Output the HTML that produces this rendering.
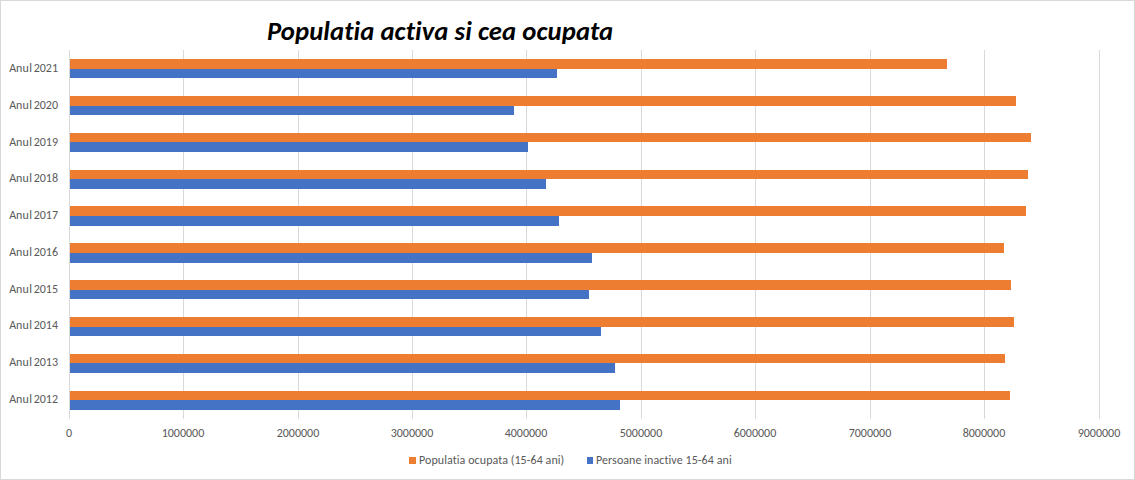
<!DOCTYPE html>
<html><head><meta charset="utf-8"><style>
html,body{margin:0;padding:0;background:#fff;}
#c{position:relative;width:1135px;height:480px;overflow:hidden;background:#fff;}
svg{position:absolute;left:0;top:0;}
.ax{font-family:"Carlito","Liberation Sans",sans-serif;font-size:12px;fill:#595959;}
.ti{font-family:"Carlito","Liberation Sans",sans-serif;font-size:26.67px;font-weight:bold;font-style:italic;fill:#000;letter-spacing:0.1px;}
.lg{font-family:"Carlito","Liberation Sans",sans-serif;font-size:12px;fill:#595959;letter-spacing:0.07px;}
</style></head><body><div id="c">
<svg width="1135" height="480" viewBox="0 0 1135 480">
<rect x="0.5" y="0.5" width="1134" height="479" fill="#fff" stroke="#d9d9d9" stroke-width="1"/>
<text x="267" y="40" class="ti" textLength="346.25" lengthAdjust="spacingAndGlyphs">Populatia activa si cea ocupata</text>
<rect x="69" y="50" width="1" height="368.8" fill="#d9d9d9"/>
<rect x="183" y="50" width="1" height="368.8" fill="#d9d9d9"/>
<rect x="298" y="50" width="1" height="368.8" fill="#d9d9d9"/>
<rect x="412" y="50" width="1" height="368.8" fill="#d9d9d9"/>
<rect x="526" y="50" width="1" height="368.8" fill="#d9d9d9"/>
<rect x="641" y="50" width="1" height="368.8" fill="#d9d9d9"/>
<rect x="755" y="50" width="1" height="368.8" fill="#d9d9d9"/>
<rect x="870" y="50" width="1" height="368.8" fill="#d9d9d9"/>
<rect x="984" y="50" width="1" height="368.8" fill="#d9d9d9"/>
<rect x="1099" y="50" width="1" height="368.8" fill="#d9d9d9"/>
<rect x="70" y="59" width="877" height="10" fill="#ed7d31"/>
<rect x="70" y="69" width="487" height="9" fill="#4472c4"/>
<rect x="70" y="96" width="946" height="10" fill="#ed7d31"/>
<rect x="70" y="106" width="444" height="9" fill="#4472c4"/>
<rect x="70" y="133" width="961" height="9" fill="#ed7d31"/>
<rect x="70" y="142" width="458" height="10" fill="#4472c4"/>
<rect x="70" y="170" width="958" height="9" fill="#ed7d31"/>
<rect x="70" y="179" width="476" height="10" fill="#4472c4"/>
<rect x="70" y="206" width="956" height="10" fill="#ed7d31"/>
<rect x="70" y="216" width="489" height="10" fill="#4472c4"/>
<rect x="70" y="243" width="934" height="10" fill="#ed7d31"/>
<rect x="70" y="253" width="522" height="10" fill="#4472c4"/>
<rect x="70" y="280" width="941" height="10" fill="#ed7d31"/>
<rect x="70" y="290" width="519" height="9" fill="#4472c4"/>
<rect x="70" y="317" width="944" height="10" fill="#ed7d31"/>
<rect x="70" y="327" width="531" height="9" fill="#4472c4"/>
<rect x="70" y="354" width="935" height="9" fill="#ed7d31"/>
<rect x="70" y="363" width="545" height="10" fill="#4472c4"/>
<rect x="70" y="391" width="940" height="9" fill="#ed7d31"/>
<rect x="70" y="400" width="550" height="10" fill="#4472c4"/>
<text x="9.15" y="72.00" class="ax" textLength="48.875" lengthAdjust="spacingAndGlyphs">Anu<tspan dx="0.5">l</tspan><tspan dx="-1"> 2021</tspan></text>
<text x="9.15" y="108.76" class="ax" textLength="48.875" lengthAdjust="spacingAndGlyphs">Anu<tspan dx="0.5">l</tspan><tspan dx="-1"> 2020</tspan></text>
<text x="9.15" y="145.52" class="ax" textLength="48.875" lengthAdjust="spacingAndGlyphs">Anu<tspan dx="0.5">l</tspan><tspan dx="-1"> 2019</tspan></text>
<text x="9.15" y="182.28" class="ax" textLength="48.875" lengthAdjust="spacingAndGlyphs">Anu<tspan dx="0.5">l</tspan><tspan dx="-1"> 2018</tspan></text>
<text x="9.15" y="219.04" class="ax" textLength="48.875" lengthAdjust="spacingAndGlyphs">Anu<tspan dx="0.5">l</tspan><tspan dx="-1"> 2017</tspan></text>
<text x="9.15" y="255.80" class="ax" textLength="48.875" lengthAdjust="spacingAndGlyphs">Anu<tspan dx="0.5">l</tspan><tspan dx="-1"> 2016</tspan></text>
<text x="9.15" y="292.56" class="ax" textLength="48.875" lengthAdjust="spacingAndGlyphs">Anu<tspan dx="0.5">l</tspan><tspan dx="-1"> 2015</tspan></text>
<text x="9.15" y="329.32" class="ax" textLength="48.875" lengthAdjust="spacingAndGlyphs">Anu<tspan dx="0.5">l</tspan><tspan dx="-1"> 2014</tspan></text>
<text x="9.15" y="366.08" class="ax" textLength="48.875" lengthAdjust="spacingAndGlyphs">Anu<tspan dx="0.5">l</tspan><tspan dx="-1"> 2013</tspan></text>
<text x="9.15" y="402.84" class="ax" textLength="48.875" lengthAdjust="spacingAndGlyphs">Anu<tspan dx="0.5">l</tspan><tspan dx="-1"> 2012</tspan></text>
<text x="69" y="437" text-anchor="middle" class="ax" textLength="6.094" lengthAdjust="spacingAndGlyphs">0</text>
<text x="183" y="437" text-anchor="middle" class="ax" textLength="42.578" lengthAdjust="spacingAndGlyphs">1000000</text>
<text x="298" y="437" text-anchor="middle" class="ax" textLength="42.578" lengthAdjust="spacingAndGlyphs">2000000</text>
<text x="412" y="437" text-anchor="middle" class="ax" textLength="42.578" lengthAdjust="spacingAndGlyphs">3000000</text>
<text x="526" y="437" text-anchor="middle" class="ax" textLength="42.578" lengthAdjust="spacingAndGlyphs">4000000</text>
<text x="641" y="437" text-anchor="middle" class="ax" textLength="42.578" lengthAdjust="spacingAndGlyphs">5000000</text>
<text x="755" y="437" text-anchor="middle" class="ax" textLength="42.578" lengthAdjust="spacingAndGlyphs">6000000</text>
<text x="870" y="437" text-anchor="middle" class="ax" textLength="42.578" lengthAdjust="spacingAndGlyphs">7000000</text>
<text x="984" y="437" text-anchor="middle" class="ax" textLength="42.578" lengthAdjust="spacingAndGlyphs">8000000</text>
<text x="1099" y="437" text-anchor="middle" class="ax" textLength="42.578" lengthAdjust="spacingAndGlyphs">9000000</text>
<rect x="409" y="457" width="7" height="7" fill="#ed7d31"/>
<text x="419" y="463.7" class="lg" textLength="145.344" lengthAdjust="spacingAndGlyphs">Populatia ocupata (15-64 ani)</text>
<rect x="587" y="457" width="6" height="7" fill="#4472c4"/>
<text x="596" y="463.7" class="lg" textLength="135.719" lengthAdjust="spacingAndGlyphs">Persoane inactive 15-64 ani</text>
</svg>
</div></body></html>
